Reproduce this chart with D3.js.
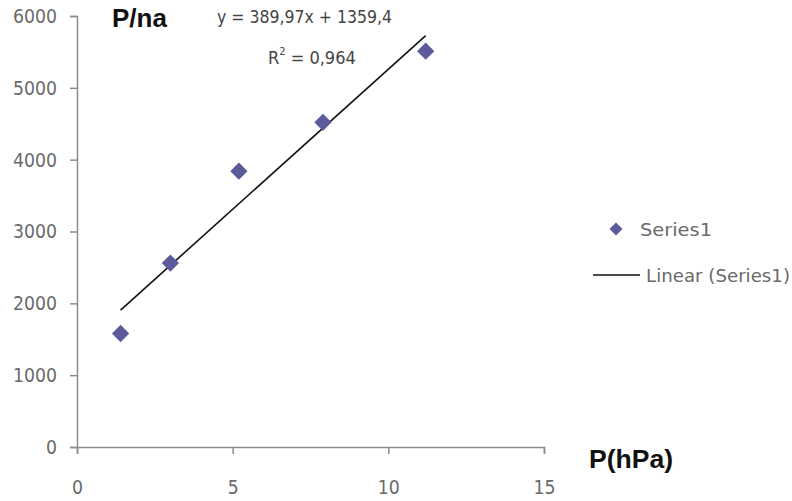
<!DOCTYPE html>
<html>
<head>
<meta charset="utf-8">
<script src="https://cdn.jsdelivr.net/npm/d3@7"></script>
<style>
  body { margin: 0; background: #fff; }
  svg text { font-family: "DejaVu Sans Condensed", "DejaVu Sans", sans-serif; }
</style>
</head>
<body>
<svg id="chart" width="792" height="501"></svg>
<script>
// data
const pressure = [1.4, 3.0, 5.2, 7.9, 11.2];
const pna = [1580, 2560, 3840, 4520, 5510];
const xTicks = [0, 5, 10, 15];
const yTicks = [0, 1000, 2000, 3000, 4000, 5000, 6000];
const slope = 389.97;
const intercept = 1359.4;

const svg = d3.select('#chart');
const axisColor = '#8c8c8c';
const textColor = '#6a6a6a';
const markColor = '#5b5b9c';

const x = d3.scaleLinear().domain([0, 15]).range([77, 544]);
const y = d3.scaleLinear().domain([0, 6000]).range([447, 16]);

// squeeze labels to look like the narrow original font
function narrow(sel) {
  sel.attr('fill', textColor).style('font-size', '20px')
    .attr('textLength', d => String(d).length * 11)
    .attr('lengthAdjust', 'spacingAndGlyphs');
}

// y axis
const yAxis = svg.append('g')
  .attr('transform', 'translate(' + x(0) + ',0)')
  .call(d3.axisLeft(y).tickValues(yTicks).tickSize(7).tickPadding(13).tickFormat(d3.format('d')));
yAxis.select('.domain').attr('stroke', axisColor).attr('stroke-width', 1.5);
yAxis.selectAll('.tick line').attr('stroke', axisColor).attr('stroke-width', 1.5);
yAxis.selectAll('.tick text').call(narrow);

// x axis
const xAxis = svg.append('g')
  .attr('transform', 'translate(0,' + y(0) + ')')
  .call(d3.axisBottom(x).tickValues(xTicks).tickSize(7).tickPadding(26));
xAxis.select('.domain').attr('stroke', axisColor).attr('stroke-width', 1.5);
xAxis.selectAll('.tick line').attr('stroke', axisColor).attr('stroke-width', 1.5);
xAxis.selectAll('.tick text').call(narrow);

// trend line
const xr = d3.extent(pressure);
svg.append('line')
  .attr('x1', x(xr[0])).attr('y1', y(slope * xr[0] + intercept))
  .attr('x2', x(xr[1])).attr('y2', y(slope * xr[1] + intercept))
  .attr('stroke', '#111').attr('stroke-width', 1.6);

// points
const diamond = d3.symbol().type(d3.symbolDiamond2).size(190);
svg.selectAll('.pt')
  .data(pressure.map((p, i) => [p, pna[i]]))
  .join('path')
  .attr('class', 'pt')
  .attr('d', diamond)
  .attr('transform', d => 'translate(' + x(d[0]) + ',' + y(d[1]) + ')')
  .attr('fill', markColor);

// titles
svg.append('text').attr('x', 112).attr('y', 27)
  .style('font-family', '"Liberation Sans", Arial, sans-serif')
  .style('font-weight', 'bold').style('font-size', '26px').attr('fill', '#111')
  .attr('textLength', 55).attr('lengthAdjust', 'spacingAndGlyphs')
  .text('P/na');
svg.append('text').attr('x', 589).attr('y', 468)
  .style('font-family', '"Liberation Sans", Arial, sans-serif')
  .style('font-weight', 'bold').style('font-size', '26px').attr('fill', '#111')
  .attr('textLength', 84).attr('lengthAdjust', 'spacingAndGlyphs')
  .text('P(hPa)');

// equation
svg.append('text').attr('x', 217).attr('y', 23)
  .style('font-size', '18px').attr('fill', '#444')
  .attr('textLength', 175).attr('lengthAdjust', 'spacingAndGlyphs')
  .text('y = 389,97x + 1359,4');
const r2 = svg.append('text').attr('x', 268).attr('y', 64)
  .style('font-size', '18px').attr('fill', '#444');
r2.append('tspan').text('R');
r2.append('tspan').attr('dy', -9).style('font-size', '11px').text('2');
r2.append('tspan').attr('dy', 9).text(' = 0,964');

// legend
svg.append('path').attr('d', diamond)
  .attr('transform', 'translate(616,229) scale(0.75)')
  .attr('fill', markColor);
svg.append('text').attr('x', 640).attr('y', 236)
  .style('font-size', '18px').attr('fill', textColor)
  .attr('textLength', 72).attr('lengthAdjust', 'spacingAndGlyphs')
  .text('Series1');
svg.append('line').attr('x1', 593).attr('x2', 640).attr('y1', 275).attr('y2', 275)
  .attr('stroke', '#111').attr('stroke-width', 1.5);
svg.append('text').attr('x', 646).attr('y', 282)
  .style('font-size', '18px').attr('fill', textColor)
  .attr('textLength', 144).attr('lengthAdjust', 'spacingAndGlyphs')
  .text('Linear (Series1)');
</script>
</body>
</html>
